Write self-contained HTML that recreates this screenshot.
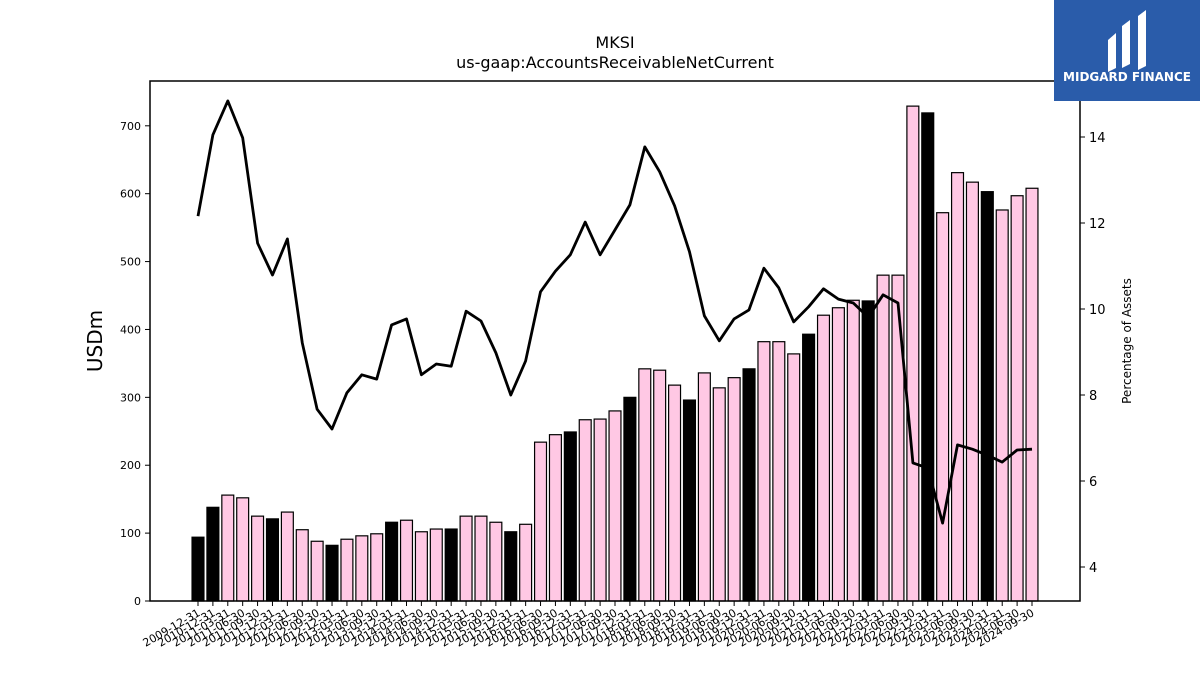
<!DOCTYPE html>
<html><head><meta charset="utf-8"><style>
body{margin:0;background:#fff;font-family:"Liberation Sans","DejaVu Sans",sans-serif}
svg text{font-family:"DejaVu Sans","Liberation Sans",sans-serif}
</style></head><body>
<svg id="chart" width="1200" height="675" xmlns="http://www.w3.org/2000/svg">
<text x="615" y="48" text-anchor="middle" font-size="16">MKSI</text>
<text x="615" y="68" text-anchor="middle" font-size="16">us-gaap:AccountsReceivableNetCurrent</text>
<text transform="translate(102,341) rotate(-90)" text-anchor="middle" font-size="20">USDm</text>
<text transform="translate(1131,341) rotate(-90)" text-anchor="middle" font-size="12">Percentage of Assets</text>
<g id="bars"></g>
<g id="line"></g>
<g id="axes"></g>
<g>
<rect x="1054" y="0" width="146" height="101" fill="#2a5caa"/>
<path d="M1108 40 L1116 33 L1116 68 L1108 72 Z M1122 26 L1130 20 L1130 64 L1122 68 Z M1138 16 L1146 10 L1146 66 L1138 70 Z" fill="#fff"/>
<text x="1127" y="81" text-anchor="middle" font-size="12" font-weight="bold" fill="#fff">MIDGARD FINANCE</text>
</g>
</svg>
<script>
const dates=["2009-12-31","2010-12-31"];
for(let y=2011;y<=2024;y++){for(const q of ["03-31","06-30","09-30","12-31"]){if(y===2024&&q==="12-31")continue;dates.push(y+"-"+q);}}
const values=[94,138,156,152,125,121,131,105,88,82,91,96,99,116,119,102,106,106,125,125,116,102,113,234,245,249,267,268,280,300,342,340,318,296,336,314,329,342,382,382,364,393,421,432,443,442,480,480,729,719,572,631,617,603,576,597,608];
const pct=[12.16,14.05,14.84,13.98,11.53,10.79,11.63,9.21,7.67,7.21,8.05,8.47,8.37,9.63,9.77,8.47,8.72,8.67,9.95,9.72,8.98,8.0,8.79,10.4,10.88,11.26,12.02,11.26,11.84,12.42,13.77,13.19,12.4,11.33,9.84,9.26,9.77,9.98,10.95,10.49,9.7,10.05,10.47,10.23,10.14,9.81,10.33,10.14,6.42,6.3,5.02,6.84,6.74,6.6,6.44,6.72,6.74];
const leftTicks=[0,100,200,300,400,500,600,700];
const rightTicks=[4,6,8,10,12,14];
const L=150,R=1080,T=81,B=601;
const x0=198,step=(1032-198)/56;
const xs=i=>x0+i*step;
const yL=v=>B-v*(B-T)/766;
const yR=v=>567-(v-4)*43;
const NS="http://www.w3.org/2000/svg";
function mk(tag,attrs,parent,text){const e=document.createElementNS(NS,tag);for(const k in attrs)e.setAttribute(k,attrs[k]);if(text!==undefined)e.textContent=text;parent.appendChild(e);return e;}
const gb=document.getElementById('bars'),gl=document.getElementById('line'),ga=document.getElementById('axes');
const bw=step*0.8;
values.forEach((v,i)=>{
  const black=dates[i].endsWith("12-31");
  const r=mk('rect',{x:xs(i)-bw/2,y:yL(v),width:bw,height:B-yL(v),fill:black?'#000':'#ffc8e4',stroke:'#000','stroke-width':1.2},gb);
  
  
});
const pts=pct.map((v,i)=>xs(i).toFixed(1)+","+yR(v).toFixed(1)).join(" ");
const pl=mk('polyline',{points:pts,fill:'none',stroke:'#000','stroke-width':2.8,'stroke-linejoin':'round'},gl);


const fr=mk('rect',{x:L,y:T,width:R-L,height:B-T,fill:'none',stroke:'#000','stroke-width':1.5},ga);


leftTicks.forEach(v=>{
  mk('line',{x1:L-5,x2:L,y1:yL(v),y2:yL(v),stroke:'#000'},ga);
  const t=mk('text',{x:L-9,y:yL(v)+4,'text-anchor':'end','font-size':11},ga,v);
  
  
});
rightTicks.forEach(v=>{
  mk('line',{x1:R,x2:R+5,y1:yR(v),y2:yR(v),stroke:'#000'},ga);
  const t=mk('text',{x:R+9,y:yR(v)+5,'font-size':13},ga,v);
  
  
});
dates.forEach((d,i)=>{
  const x=xs(i);
  mk('line',{x1:x,x2:x,y1:B,y2:B+5,stroke:'#000'},ga);
  const t=mk('text',{transform:`translate(${x+3},${B+14}) rotate(-30)`,'text-anchor':'end','font-size':11},ga,d);
  
  
});
</script>
</body></html>
